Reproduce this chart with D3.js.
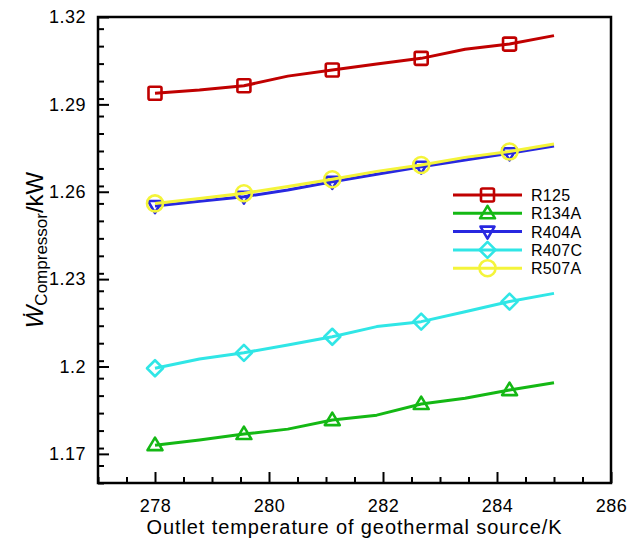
<!DOCTYPE html>
<html><head><meta charset="utf-8">
<script src="https://cdn.jsdelivr.net/npm/d3@7"></script>
<style>html,body{margin:0;padding:0;background:#fff;}svg{display:block;font-family:"Liberation Sans",Arial,Helvetica,sans-serif;}</style>
</head><body>
<svg id="chart" width="638" height="542"></svg>
<script>
// x values (outlet temperature, K); markers every other point
const temps = [278, 278.78, 279.56, 280.33, 281.11, 281.89, 282.67, 283.44, 284.22, 285];
const r125  = [1.2938, 1.2949, 1.2964, 1.2997, 1.3018, 1.3039, 1.3058, 1.3089, 1.3107, 1.3136];
const r134a = [1.1730, 1.1748, 1.1768, 1.1785, 1.1816, 1.1833, 1.1871, 1.1891, 1.1919, 1.1944];
const r404a = [1.2551, 1.2567, 1.2583, 1.2606, 1.2634, 1.2660, 1.2686, 1.2709, 1.2732, 1.2757];
const r407c = [1.1994, 1.2026, 1.2047, 1.2074, 1.2102, 1.2137, 1.2154, 1.2188, 1.2223, 1.2251];
const r507a = [1.2560, 1.2577, 1.2595, 1.2618, 1.2643, 1.2670, 1.2692, 1.2718, 1.2738, 1.2764];
const seriesNames = ["R125", "R134A", "R404A", "R407C", "R507A"];
const xTicks = [278, 280, 282, 284, 286];
const yTicks = [1.17, 1.2, 1.23, 1.26, 1.29, 1.32];
const xTitle = "Outlet temperature of geothermal source/K";

const seriesVals = [r125, r134a, r404a, r407c, r507a];
const colors = ["#c00000", "#14b814", "#2828e0", "#30e6e6", "#f4f43a"];
const shapes = ["square", "tri", "itri", "diamond", "circle"];

const svg = d3.select("#chart");
const L = 98, R = 611, T = 17, B = 483;
const x = d3.scaleLinear().domain([277, 286]).range([L, R]);
const y = d3.scaleLinear().domain([1.16, 1.32]).range([B, T]);

// minor ticks
const xMinor = d3.range(277, 286.01, 0.5).filter(v => !xTicks.includes(Math.round(v*10)/10));
const yMinor = d3.range(0, 27).map(i => Math.round((1.16 + i*0.006)*1000)/1000).filter(v => v <= 1.32 && !yTicks.some(t => Math.abs(t - v) < 1e-6));

const xAxis = d3.axisBottom(x).tickValues(xTicks).tickSize(-11).tickPadding(16).tickFormat(d3.format("d"));
const yAxis = d3.axisLeft(y).tickValues(yTicks).tickSize(-11).tickPadding(12).tickFormat(d => String(+d.toFixed(2)));
const xAxisMinor = d3.axisBottom(x).tickValues(xMinor).tickSize(-6).tickFormat("");
const yAxisMinor = d3.axisLeft(y).tickValues(yMinor).tickSize(-6).tickFormat("");

function styleAxis(g) {
  g.select(".domain").remove();
  g.selectAll("line").attr("stroke", "#000").attr("stroke-width", 2);
  g.selectAll("text").attr("fill", "#000").attr("font-size", 18).attr("letter-spacing", 0.5);
}
svg.append("g").attr("transform", `translate(0,${B})`).call(xAxisMinor).call(styleAxis);
svg.append("g").attr("transform", `translate(${L},0)`).call(yAxisMinor).call(styleAxis);
svg.append("g").attr("transform", `translate(0,${B})`).call(xAxis).call(styleAxis);
svg.append("g").attr("transform", `translate(${L},0)`).call(yAxis).call(styleAxis);

// frame
svg.append("rect").attr("x", L).attr("y", T).attr("width", R - L).attr("height", B - T)
  .attr("fill", "none").attr("stroke", "#000").attr("stroke-width", 2.5);

// marker drawing
function drawMarker(g, shape, cx, cy, color) {
  const sw = 2.6;
  if (shape === "square") {
    g.append("rect").attr("x", cx - 6.5).attr("y", cy - 6.5).attr("width", 13).attr("height", 13)
      .attr("rx", 1.5).attr("fill", "none").attr("stroke", color).attr("stroke-width", sw);
  } else if (shape === "tri") {
    g.append("path").attr("d", `M${cx},${cy-7.5}L${cx+7.5},${cy+5}L${cx-7.5},${cy+5}Z`)
      .attr("fill", "none").attr("stroke", color).attr("stroke-width", sw).attr("stroke-linejoin", "round");
  } else if (shape === "itri") {
    g.append("path").attr("d", `M${cx},${cy+7}L${cx+7},${cy-5}L${cx-7},${cy-5}Z`)
      .attr("fill", "none").attr("stroke", color).attr("stroke-width", sw).attr("stroke-linejoin", "round");
  } else if (shape === "diamond") {
    g.append("path").attr("d", `M${cx},${cy-8}L${cx+8},${cy}L${cx},${cy+8}L${cx-8},${cy}Z`)
      .attr("fill", "none").attr("stroke", color).attr("stroke-width", sw).attr("stroke-linejoin", "round");
  } else {
    g.append("circle").attr("cx", cx).attr("cy", cy).attr("r", 8)
      .attr("fill", "none").attr("stroke", color).attr("stroke-width", sw);
  }
}

const line = d3.line().x((d, i) => x(temps[i])).y(d => y(d));
seriesVals.forEach((vals, s) => {
  const g = svg.append("g");
  g.append("path").attr("d", line(vals)).attr("fill", "none")
    .attr("stroke", colors[s]).attr("stroke-width", 3).attr("stroke-linejoin", "round");
  vals.forEach((v, i) => { if (i % 2 === 0 && i < 9) drawMarker(g, shapes[s], x(temps[i]), y(v), colors[s]); });
});

// legend
const legX1 = 453, legX2 = 522, legY0 = 195, legDy = 18.3;
seriesNames.forEach((name, s) => {
  const g = svg.append("g");
  const ly = legY0 + s * legDy;
  g.append("line").attr("x1", legX1).attr("x2", legX2).attr("y1", ly).attr("y2", ly)
    .attr("stroke", colors[s]).attr("stroke-width", 3);
  drawMarker(g, shapes[s], (legX1 + legX2) / 2, ly, colors[s]);
  g.append("text").attr("x", 531).attr("y", ly + 6).attr("font-size", 16).attr("letter-spacing", 0.3)
    .attr("fill", "#000").text(name);
});

// axis titles
svg.append("text").attr("x", (L + R) / 2).attr("y", 534).attr("text-anchor", "middle")
  .attr("font-size", 20).attr("letter-spacing", 0.9).attr("fill", "#000").text(xTitle);

const yt = svg.append("text").attr("transform", `translate(43,${(T + B) / 2}) rotate(-90)`)
  .attr("text-anchor", "middle").attr("fill", "#000").attr("font-size", 24);
yt.append("tspan").attr("font-style", "italic").text("W\u0307");
yt.append("tspan").attr("font-size", 17).attr("dy", 4).text("Compressor");
yt.append("tspan").attr("dy", -4).text("/kW");
</script>
</body></html>
